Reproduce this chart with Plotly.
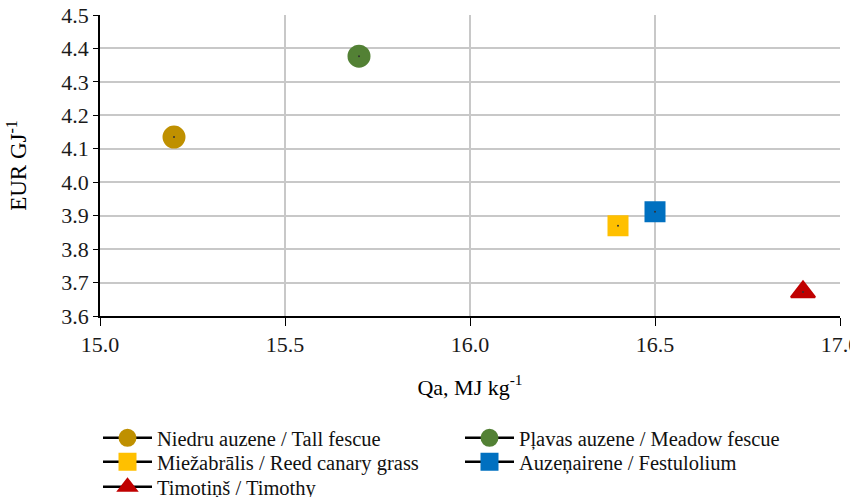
import plotly.graph_objects as go

# Grass species: heating value vs. fuel cost
names = [
    "Niedru auzene / Tall fescue",
    "Pļavas auzene / Meadow fescue",
    "Miežabrālis / Reed canary grass",
    "Auzeņairene / Festulolium",
    "Timotiņš / Timothy",
]
qa = [15.2, 15.7, 16.4, 16.5, 16.9]
cost = [4.135, 4.377, 3.870, 3.912, 3.672]
colors = ["#BF9000", "#538135", "#FFC000", "#0070C0", "#C00000"]
symbols = ["circle", "circle", "square", "square", "triangle-up"]
marker_sizes = [21, 21, 19, 19, 21]

x_ticks = [15.0, 15.5, 16.0, 16.5, 17.0]
y_ticks = [3.6, 3.7, 3.8, 3.9, 4.0, 4.1, 4.2, 4.3, 4.4, 4.5]

FONT = "Liberation Serif, Times New Roman, serif"

# one legend box per entry, laid out as two columns x three rows (pixels)
legend_ids = ["legend", "legend2", "legend3", "legend4", "legend5"]
legend_px = [(98, 438), (460, 438), (98, 462), (460, 462), (98, 487)]

fig = go.Figure()
for n, x, y, c, s, ms, lg in zip(names, qa, cost, colors, symbols,
                                 marker_sizes, legend_ids):
    fig.add_trace(go.Scatter(
        x=[x], y=[y], name=n, mode="lines+markers", legend=lg,
        line=dict(color="black", width=2.5),
        marker=dict(color=c, symbol=s, size=ms, line=dict(color=c, width=2)),
    ))
    # small centre dot on each marker
    fig.add_trace(go.Scatter(
        x=[x], y=[y], mode="markers", showlegend=False, hoverinfo="skip",
        marker=dict(color="#333333", size=2),
    ))

axis_common = dict(
    showgrid=True, gridcolor="#C8C8C8", gridwidth=1.5,
    showline=True, linecolor="black", linewidth=1.5,
    ticks="outside", tickcolor="black",
    zeroline=False, automargin=False,
    tickfont=dict(family=FONT, size=22, color="#1a1a1a"),
)

W, H = 850, 497
legends = {}
for lg, (px, py) in zip(legend_ids, legend_px):
    legends[lg] = dict(
        orientation="h", xref="container", yref="container",
        x=px / W, y=1 - py / H, xanchor="left", yanchor="middle",
        font=dict(family=FONT, size=20.5, color="#111111"),
        itemwidth=49, bgcolor="rgba(0,0,0,0)",
    )

fig.update_layout(
    width=W, height=H,
    template="none",
    paper_bgcolor="white", plot_bgcolor="white",
    margin=dict(l=100, r=10, t=15, b=181),
    font=dict(family=FONT, size=20, color="black"),
    xaxis=dict(
        range=[15.0, 17.0], tickvals=x_ticks,
        ticktext=[f"{v:.1f}" for v in x_ticks],
        ticklabeloverflow="allow", ticklen=8,
        title=dict(text="Qa, MJ kg<sup>-1</sup>", standoff=23,
                   font=dict(family=FONT, size=22)),
        **axis_common,
    ),
    yaxis=dict(
        range=[3.6, 4.5], tickvals=y_ticks,
        ticktext=[f"{v:.1f}" for v in y_ticks], ticklen=5,
        title=dict(text="EUR GJ<sup>-1</sup>", standoff=28,
                   font=dict(family=FONT, size=23)),
        **axis_common,
    ),
    **legends,
)

fig.write_html("out.html")
